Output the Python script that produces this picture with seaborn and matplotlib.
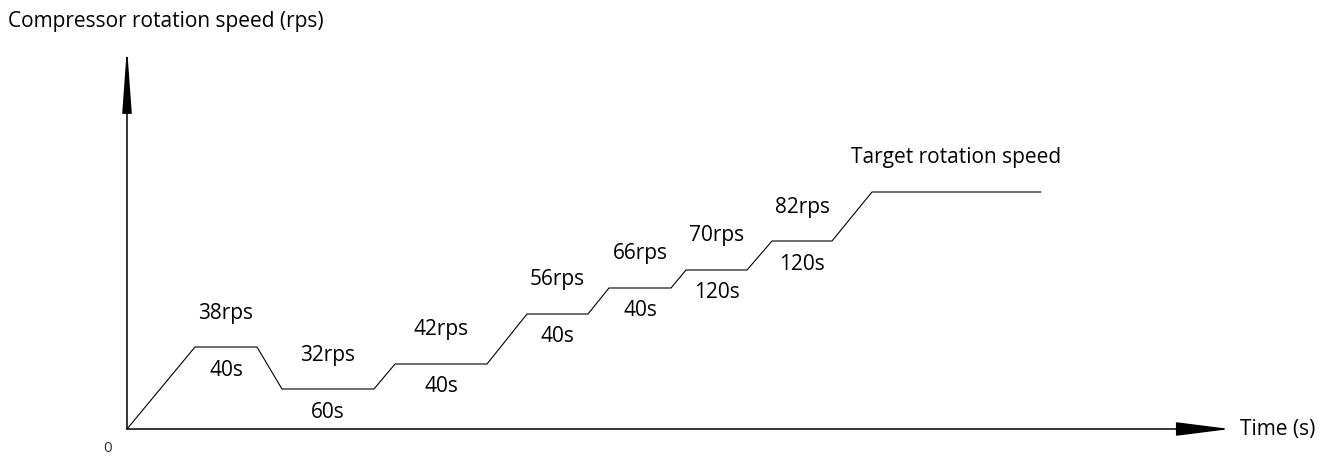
import matplotlib
matplotlib.use("Agg")
import matplotlib.pyplot as plt
import seaborn as sns
import pandas as pd
from matplotlib.patches import FancyArrowPatch

# ---- data (schematic units: time axis / speed axis) ----
times = [0, 68, 130, 155, 247, 268, 360, 400, 461, 482, 544, 559, 620, 645, 705, 745, 914]
speeds = [0, 82, 82, 40, 40, 65, 65, 115, 115, 141, 141, 159, 159, 188, 188, 237, 237]

# plateau index (start point) for each labelled step
plateau_starts = [1, 3, 5, 7, 9, 11, 13, 15]
speed_labels = ["38rps", "32rps", "42rps", "56rps", "66rps", "70rps", "82rps", "Target rotation speed"]
duration_labels = ["40s", "60s", "40s", "40s", "40s", "120s", "120s", ""]

y_label = "Compressor rotation speed (rps)"
x_label = "Time (s)"
origin_label = "0"

sns.set_theme(style="white")
plt.rcParams["font.family"] = ["Open Sans", "DejaVu Sans"]

fig = plt.figure(figsize=(13.34, 4.58), dpi=100)
ax = fig.add_axes([0, 0, 1, 1])
ax.set_xlim(-127, 1207)
ax.set_ylim(-29, 429)
ax.axis("off")

df = pd.DataFrame({"t": times, "v": speeds})
sns.lineplot(data=df, x="t", y="v", sort=False, estimator=None,
             color="black", lw=0.8, ax=ax)

# axes arrows
ax.add_patch(FancyArrowPatch((0, 0), (1103, 0), arrowstyle="-|>,head_length=34,head_width=4.3",
                             mutation_scale=1, lw=1.1, color="black", shrinkA=0, shrinkB=0))
ax.add_patch(FancyArrowPatch((0, 0), (0, 382), arrowstyle="-|>,head_length=40,head_width=2.9",
                             mutation_scale=1, lw=1.1, color="black", shrinkA=0, shrinkB=0))

fs = 15
for i, s_lab, d_lab in zip(plateau_starts, speed_labels, duration_labels):
    xm = (times[i] + times[i + 1]) / 2
    lvl = speeds[i]
    ax.text(xm, lvl + 34, s_lab, ha="center", va="center", fontsize=fs, color="black")
    if d_lab:
        ax.text(xm, lvl - 23, d_lab, ha="center", va="center", fontsize=fs, color="black")

ax.text(-119, 408, y_label, ha="left", va="center", fontsize=fs, color="black")
ax.text(1113, -1, x_label, ha="left", va="center", fontsize=fs, color="black")
ax.text(-19, -19, origin_label, ha="center", va="center", fontsize=11, color="#333333")

fig.savefig("out.png", dpi=100)
